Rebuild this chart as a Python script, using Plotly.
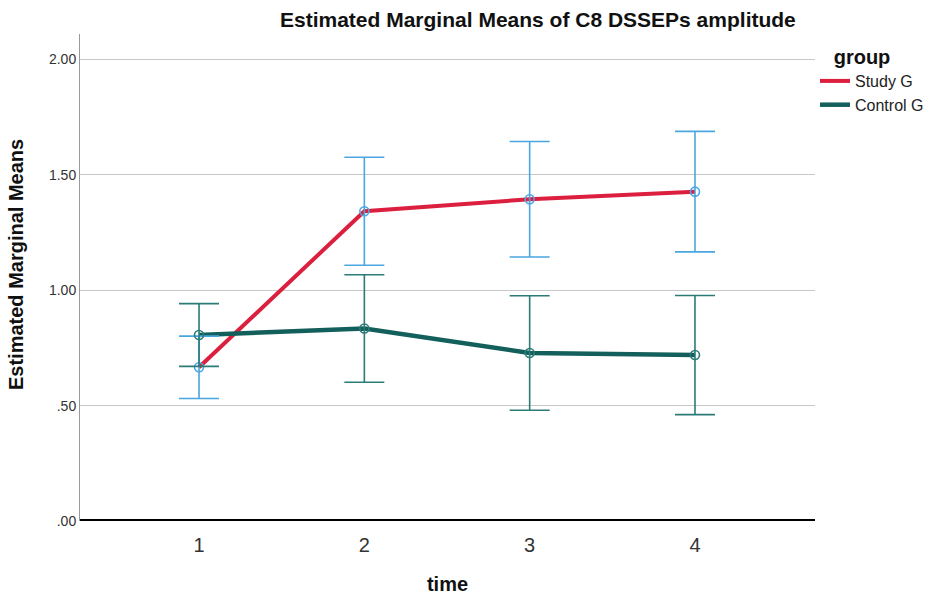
import plotly.graph_objects as go

# Estimated marginal means of C8 DSSEPs amplitude by time and group
time_points = [1, 2, 3, 4]
time_labels = ["1", "2", "3", "4"]

study_mean = [0.666, 1.342, 1.394, 1.427]
study_ci_half = [0.135, 0.234, 0.250, 0.261]

control_mean = [0.806, 0.834, 0.728, 0.719]
control_ci_half = [0.136, 0.233, 0.248, 0.258]

y_ticks = [0, 0.5, 1.0, 1.5, 2.0]
y_tick_text = [".00", ".50", "1.00", "1.50", "2.00"]

FONT = "Liberation Sans, Arial, sans-serif"

STUDY_LINE = "#DC1F3F"
STUDY_BAR = "#4AA6E0"
CONTROL_LINE = "#135F5B"
CONTROL_BAR = "#2B7B77"

PLOT_L, PLOT_R, PLOT_T, PLOT_B = 80, 815, 34, 521
W, H = 929, 596
PW, PH = PLOT_R - PLOT_L, PLOT_B - PLOT_T

fig = go.Figure()

# group lines (these carry the legend entries)
fig.add_trace(go.Scatter(
    x=time_points, y=study_mean, mode="lines", name="Study G",
    line=dict(color=STUDY_LINE, width=4),
))
fig.add_trace(go.Scatter(
    x=time_points, y=control_mean, mode="lines", name="Control G",
    line=dict(color=CONTROL_LINE, width=4.5),
))

# confidence interval bars and open point markers
for means, halves, col in [(study_mean, study_ci_half, STUDY_BAR),
                           (control_mean, control_ci_half, CONTROL_BAR)]:
    fig.add_trace(go.Scatter(
        x=time_points, y=means, mode="markers", showlegend=False,
        marker=dict(symbol="circle-open", size=9, color=col,
                    line=dict(color=col, width=1.6)),
        error_y=dict(type="data", array=halves, visible=True,
                     color=col, thickness=1.6, width=20),
    ))

# heavy baseline at zero
fig.add_shape(type="line", xref="paper", yref="y", x0=0, x1=1, y0=0, y1=0,
              line=dict(color="black", width=4), layer="above")

fig.update_layout(
    width=W, height=H,
    margin=dict(l=PLOT_L, r=W - PLOT_R, t=PLOT_T, b=H - PLOT_B),
    paper_bgcolor="white", plot_bgcolor="white",
    font=dict(family=FONT, color="#333333"),
    annotations=[
        dict(
            text="<b>Estimated Marginal Means of C8 DSSEPs amplitude</b>",
            xref="paper", yref="paper", x=(538 - PLOT_L) / PW,
            y=1 + (PLOT_T - 20) / PH,
            xanchor="center", yanchor="middle", showarrow=False,
            font=dict(size=21, color="#111111", family=FONT),
        ),
        dict(
            text="<b>Estimated Marginal Means</b>", textangle=-90,
            xref="paper", yref="paper", x=(16 - PLOT_L) / PW,
            y=(PLOT_B - 265) / PH,
            xanchor="center", yanchor="middle", showarrow=False,
            font=dict(size=20, color="#111111", family=FONT),
        ),
    ],
    legend=dict(
        title=dict(text="<b>\u00a0\u00a0\u00a0group</b>",
                   font=dict(size=20, color="#111111")),
        xref="container", yref="container",
        x=PLOT_R / W, xanchor="left",
        y=1 - 38 / H, yanchor="top",
        font=dict(size=16, color="#222222"),
        bgcolor="rgba(0,0,0,0)", tracegroupgap=0, itemwidth=30,
    ),
    xaxis=dict(
        range=[0.28, 4.726], tickmode="array", tickvals=time_points,
        ticktext=time_labels, showgrid=False, zeroline=False, showline=False,
        ticks="outside", ticklen=6, tickcolor="rgba(0,0,0,0)",
        tickfont=dict(size=20, color="#333333"), automargin=False,
        title=dict(text="<b>time</b>", font=dict(size=20, color="#111111"),
                   standoff=21),
    ),
    yaxis=dict(
        range=[0, 2.11], tickmode="array", tickvals=y_ticks,
        ticktext=y_tick_text, showgrid=True, gridcolor="#C8C8C8",
        gridwidth=1, zeroline=False, showline=True, linecolor="#999999",
        linewidth=1, ticks="", tickfont=dict(size=14, color="#333333"),
        automargin=False,
    ),
)

fig.write_html("out.html")
